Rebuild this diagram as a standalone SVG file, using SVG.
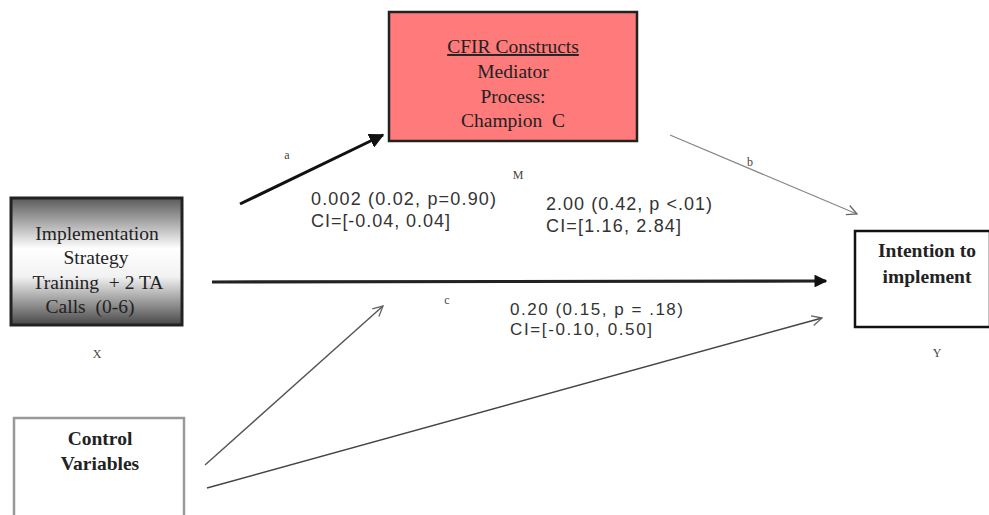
<svg xmlns="http://www.w3.org/2000/svg" width="989" height="515" viewBox="0 0 989 515">
<style>
.t{font-family:"Liberation Serif","Times New Roman",serif;font-size:19.5px;fill:#222;text-anchor:middle}
.b{font-weight:bold}
.s{font-family:"Liberation Sans",Arial,sans-serif;font-size:18px;fill:#333}
.s2{font-size:17px}
.l{font-family:"Liberation Serif","Times New Roman",serif;font-size:12px;fill:#444;text-anchor:middle}
</style>
<defs>
<linearGradient id="g" x1="0" y1="0" x2="0" y2="1">
<stop offset="0" stop-color="#5a5a5a"/>
<stop offset="0.4" stop-color="#fff"/>
<stop offset="0.62" stop-color="#f2f2f2"/>
<stop offset="1" stop-color="#484848"/>
</linearGradient>
<marker id="fa" viewBox="0 0 10 10" refX="9" refY="5" markerWidth="5" markerHeight="5" orient="auto" markerUnits="strokeWidth">
<path d="M0,0 L10,5 L0,10 z" fill="#111"/>
</marker>
<marker id="fc" viewBox="0 0 10 10" refX="9" refY="5" markerWidth="4" markerHeight="4" orient="auto" markerUnits="strokeWidth">
<path d="M0,0 L10,5 L0,10 z" fill="#111"/>
</marker>
<marker id="oa" viewBox="0 0 12 12" refX="11" refY="6" markerWidth="12" markerHeight="12" orient="auto" markerUnits="userSpaceOnUse">
<path d="M1,1 L11,6 L1,11" fill="none" stroke="#666" stroke-width="1.3"/>
</marker>
</defs>
<g id="connectors">
<line x1="240" y1="204" x2="383" y2="135" stroke="#111" stroke-width="3" marker-end="url(#fa)"/>
<line x1="670" y1="135" x2="857" y2="214" stroke="#888" stroke-width="1.3" marker-end="url(#oa)"/>
<line x1="212" y1="282" x2="826" y2="281" stroke="#222" stroke-width="3.2" marker-end="url(#fc)"/>
<line x1="205" y1="465" x2="383" y2="306" stroke="#555" stroke-width="1.4" marker-end="url(#oa)"/>
<line x1="207" y1="488" x2="822" y2="318" stroke="#444" stroke-width="1.5" marker-end="url(#oa)"/>
</g>
<g id="mediator">
<rect x="389" y="12" width="248" height="129" fill="#ff7b7b" stroke="#222" stroke-width="2.5"/>
<text class="t" x="513" y="53" text-decoration="underline">CFIR Constructs</text>
<text class="t" x="513" y="78">Mediator</text>
<text class="t" x="513" y="103">Process:</text>
<text class="t" x="513" y="127" xml:space="preserve">Champion  C</text>
<text class="l" x="518" y="179">M</text>
</g>
<g id="strategy">
<rect x="11" y="198" width="171" height="127" fill="url(#g)" stroke="#222" stroke-width="3"/>
<text class="t" x="97" y="240">Implementation</text>
<text class="t" x="96" y="264">Strategy</text>
<text class="t" x="98" y="289" xml:space="preserve">Training  + 2 TA</text>
<text class="t" x="90" y="313" xml:space="preserve">Calls  (0-6)</text>
<text class="l" x="97" y="358">X</text>
</g>
<g id="intention">
<rect x="855" y="231" width="135" height="96" fill="#fff" stroke="#111" stroke-width="2.5"/>
<text class="t b" x="927" y="257">Intention to</text>
<text class="t b" x="927" y="283">implement</text>
<text class="l" x="937" y="357">Y</text>
</g>
<g id="control">
<rect x="14" y="418" width="170" height="100" fill="#fff" stroke="#999" stroke-width="2.5"/>
<text class="t b" x="100" y="445">Control</text>
<text class="t b" x="100" y="470">Variables</text>
</g>
<g id="labels">
<text class="l" x="287" y="159">a</text>
<text class="l" x="750" y="166">b</text>
<text class="l" x="447" y="304">c</text>
<text class="s" x="311" y="205" textLength="185">0.002 (0.02, p=0.90)</text>
<text class="s" x="311" y="227" textLength="139">CI=[-0.04, 0.04]</text>
<text class="s" x="546" y="210" textLength="166" xml:space="preserve">2.00 (0.42, p &lt;.01)</text>
<text class="s" x="546" y="232" textLength="135">CI=[1.16, 2.84]</text>
<text class="s s2" x="510" y="315" textLength="173">0.20 (0.15, p = .18)</text>
<text class="s s2" x="510" y="335" textLength="142">CI=[-0.10, 0.50]</text>
</g>
</svg>
